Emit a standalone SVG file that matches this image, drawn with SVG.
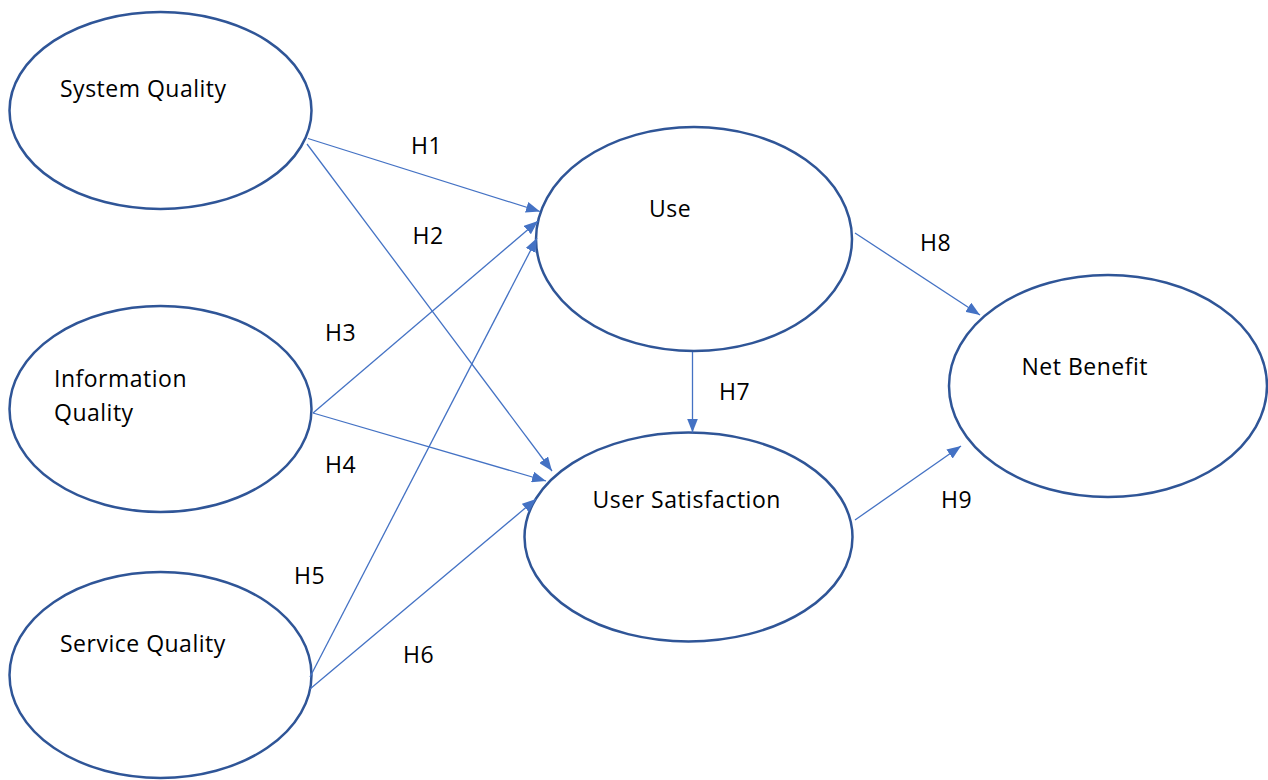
<svg xmlns="http://www.w3.org/2000/svg" width="1268" height="780" viewBox="0 0 1268 780">
<style>
.node ellipse{fill:#fff;stroke:#2F5597;stroke-width:2.5}
text{font-family:"Open Sans","Liberation Sans",sans-serif;font-size:23px;letter-spacing:0.5px;fill:#000}
.conn line{stroke:#4472C4;stroke-width:1.3;fill:none}
</style>
<defs>
<marker id="arr" markerUnits="userSpaceOnUse" markerWidth="15" markerHeight="11" refX="14" refY="5.5" orient="auto" viewBox="0 0 15 11">
<path d="M0,0 L14,5.5 L0,11 z" fill="#4472C4"/>
</marker>
</defs>
<rect width="1268" height="780" fill="#fff"/>
<g id="node-system-quality" class="node"><ellipse cx="160.5" cy="110.5" rx="151" ry="98.5"/><text x="60" y="97">System Quality</text></g>
<g id="node-information-quality" class="node"><ellipse cx="160.5" cy="409" rx="151" ry="103"/><text x="54" y="386.5">Information</text><text x="54" y="420.5">Quality</text></g>
<g id="node-service-quality" class="node"><ellipse cx="160.5" cy="675" rx="151" ry="103"/><text x="60" y="651.5">Service Quality</text></g>
<g id="node-use" class="node"><ellipse cx="694" cy="239" rx="158" ry="112"/><text x="649" y="216.5">Use</text></g>
<g id="node-user-satisfaction" class="node"><ellipse cx="688.5" cy="537" rx="164" ry="104.5"/><text x="592.5" y="508">User Satisfaction</text></g>
<g id="node-net-benefit" class="node"><ellipse cx="1108" cy="386" rx="159" ry="111"/><text x="1021.5" y="375">Net Benefit</text></g>
<g id="connectors" class="conn">
<line x1="308" y1="138.5" x2="540" y2="211.5" marker-end="url(#arr)"/>
<line x1="307" y1="144" x2="552" y2="471" marker-end="url(#arr)"/>
<line x1="313" y1="413" x2="538" y2="221" marker-end="url(#arr)"/>
<line x1="313" y1="413" x2="546" y2="481" marker-end="url(#arr)"/>
<line x1="310" y1="677" x2="537" y2="238" marker-end="url(#arr)"/>
<line x1="310" y1="689" x2="536" y2="499" marker-end="url(#arr)"/>
<line x1="692.5" y1="352" x2="692.5" y2="432.5" marker-end="url(#arr)"/>
<line x1="855" y1="233" x2="980" y2="315" marker-end="url(#arr)"/>
<line x1="855" y1="520" x2="961" y2="446" marker-end="url(#arr)"/>
</g>
<g id="labels">
<text x="411" y="154">H1</text>
<text x="412.5" y="244">H2</text>
<text x="325" y="340.5">H3</text>
<text x="325" y="472.5">H4</text>
<text x="294" y="584">H5</text>
<text x="403" y="663">H6</text>
<text x="719" y="400">H7</text>
<text x="920" y="251">H8</text>
<text x="941" y="508">H9</text>
</g>
</svg>
